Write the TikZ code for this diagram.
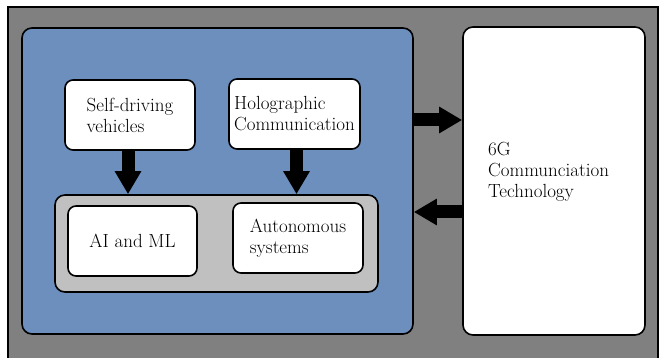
\documentclass[tikz,border=0pt]{standalone}
\usepackage{fontspec}
\usetikzlibrary{arrows.meta}
\definecolor{frameGray}{RGB}{128,128,128}
\definecolor{paneBlue}{RGB}{108,143,190}
\definecolor{coreGray}{RGB}{192,192,192}
\begin{document}
\begin{tikzpicture}[x=1pt,y=-1pt,
  txt/.style={font=\fontsize{19}{21}\selectfont, align=left},
  box/.style={draw=black, line width=1.6pt, fill=white, rounded corners=8pt,
              inner sep=0pt, txt},
  fat/.style={line width=13pt, -{Triangle[length=23pt,width=25pt]}}]
\useasboundingbox (0,0) rectangle (659,358);
\fill[white] (0,0) rectangle (659,358);
% outer frame
\draw[line width=1.6pt, fill=frameGray] (8,7) rectangle (658,366);

% left application pane and right technology pane
\node[box, fill=paneBlue, rounded corners=10pt, minimum width=391, minimum height=306] (pane) at (217.5,181) {};
\node[box, rounded corners=10pt, minimum width=182, minimum height=308] (tech) at (554,181) {};
\node[txt, anchor=north west, inner sep=0pt] (techtxt) at (488,142) {6G\\Communciation\\Technology};

% inner core panel
\node[box, fill=coreGray, rounded corners=10pt, minimum width=323, minimum height=97] (core) at (216.5,243.5) {};

% application boxes
\node[box, minimum width=130, minimum height=70] (sd) at (130,115) {Self-driving\\vehicles};
\node[box, minimum width=131, minimum height=70] (holo) at (294.5,114) {Holographic\\Communication};
\node[box, minimum width=129, minimum height=70] (ai) at (132.5,241) {AI and ML};
\node[box, minimum width=130, minimum height=70] (auto) at (298,238) {Autonomous\\systems};

% connectors
\draw[fat] ([xshift=-2pt]sd.south) -- ([xshift=-2pt]sd.south |- core.north);
\draw[fat] ([xshift=2pt]holo.south) -- ([xshift=2pt]holo.south |- core.north);
\coordinate (upY) at (0,120);
\coordinate (dnY) at (0,212);
\draw[fat] (pane.east |- upY) -- (tech.west |- upY);
\draw[fat] (tech.west |- dnY) -- (pane.east |- dnY);
\end{tikzpicture}
\end{document}
